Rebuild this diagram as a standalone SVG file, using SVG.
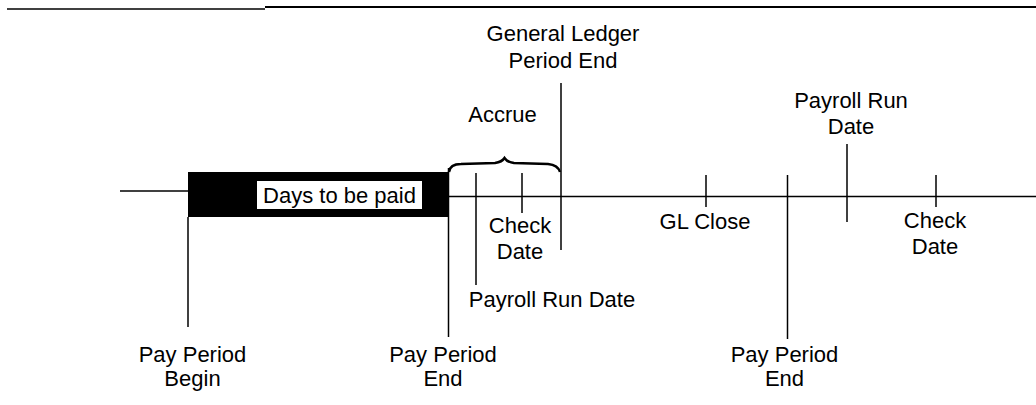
<svg xmlns="http://www.w3.org/2000/svg" width="1036" height="405" viewBox="0 0 1036 405">
<style>
text{font-family:"Liberation Sans",Arial,sans-serif;font-size:22px;fill:#000;text-anchor:middle}
.ln{stroke:#000;stroke-width:1.5;fill:none}
</style>
<rect width="1036" height="405" fill="#fff"/>
<g id="header">
<line x1="7" y1="9" x2="265" y2="9" stroke="#404040" stroke-width="2.2"/>
<line x1="265" y1="7" x2="1036" y2="7" stroke="#000" stroke-width="2"/>
</g>
<g id="connectors">
<line class="ln" x1="120" y1="191" x2="190" y2="191"/>
<line class="ln" x1="447" y1="196.5" x2="1036" y2="196.5"/>
</g>
<g id="days-to-be-paid">
<rect x="188" y="172" width="261" height="45" fill="#000"/>
<rect x="257" y="181" width="165" height="28" fill="#fff"/>
<text x="339.5" y="203" font-size="22">Days to be paid</text>
</g>
<g id="pay-period-begin">
<line class="ln" x1="188" y1="217" x2="188" y2="327"/>
<text x="192.5" y="362">Pay Period</text>
<text x="192.5" y="386">Begin</text>
</g>
<g id="pay-period-end-1">
<line class="ln" x1="448.5" y1="168" x2="448.5" y2="337"/>
<text x="443" y="362">Pay Period</text>
<text x="443" y="386">End</text>
</g>
<g id="accrue">
<path d="M449,172 Q450,164 461,164 L495,163 Q502,162 504.5,158 Q507,162 514,163 L548,164 Q558,165 560,172" fill="none" stroke="#000" stroke-width="2.5"/>
<text x="502.5" y="122">Accrue</text>
</g>
<g id="payroll-run-date-1">
<line class="ln" x1="476" y1="173" x2="476" y2="285"/>
<text x="552" y="307">Payroll Run Date</text>
</g>
<g id="check-date-1">
<line class="ln" x1="522" y1="173" x2="522" y2="213"/>
<text x="520" y="233">Check</text>
<text x="520" y="259">Date</text>
</g>
<g id="gl-period-end">
<line class="ln" x1="561" y1="83" x2="561" y2="250"/>
<text x="563" y="41">General Ledger</text>
<text x="563" y="68">Period End</text>
</g>
<g id="gl-close">
<line class="ln" x1="706" y1="175" x2="706" y2="207"/>
<text x="705" y="229">GL Close</text>
</g>
<g id="pay-period-end-2">
<line class="ln" x1="787.5" y1="175" x2="787.5" y2="339"/>
<text x="784.5" y="362">Pay Period</text>
<text x="784.5" y="386">End</text>
</g>
<g id="payroll-run-date-2">
<line class="ln" x1="847" y1="144" x2="847" y2="222"/>
<text x="851" y="108">Payroll Run</text>
<text x="851" y="134">Date</text>
</g>
<g id="check-date-2">
<line class="ln" x1="936" y1="175" x2="936" y2="207"/>
<text x="935" y="228">Check</text>
<text x="935" y="254">Date</text>
</g>
</svg>
